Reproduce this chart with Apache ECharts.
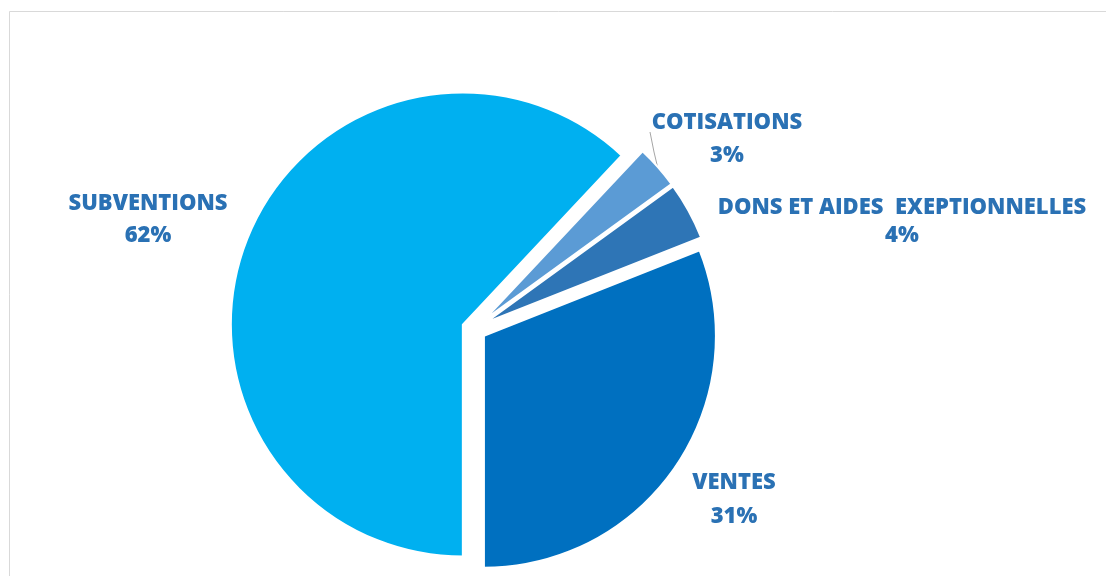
<!DOCTYPE html>
<html>
<head>
<meta charset="utf-8">
<script src="https://cdn.jsdelivr.net/npm/echarts@6/dist/echarts.min.js"></script>
<style>
html, body { margin: 0; background: #fff; }
#main { width: 1106px; height: 576px; }
</style>
</head>
<body>
<div id="main"></div>
<script>
// data, clockwise from the cut just right of 1 o'clock
var categories = ['COTISATIONS', 'DONS ET AIDES  EXEPTIONNELLES', 'VENTES', 'SUBVENTIONS'];
var values = [3, 4, 31, 62];

// looks
var colors = ['#5B9BD5', '#2E75B6', '#0070C0', '#00B0F0'];
var explode = [13, 13, 12, 12];              // px each slice is pulled out
var labelPos = [[727, 139], [902, 222], [734, 500], [148, 220]];
var lineHeights = [33, 28, 34, 32];
var leaderLine = [[659, 173], [654, 152], [650, 132]];

var pieX = 474, pieY = 329, radius = 232;
var firstAngle = 43.2; // degrees clockwise from 12 o'clock

var myChart = echarts.init(document.getElementById('main'));

var total = values.reduce(function (a, b) { return a + b; }, 0);
var series = [];
var acc = 0;
values.forEach(function (v, i) {
    var mid = (firstAngle + (acc + v / 2) / total * 360) * Math.PI / 180;
    acc += v;
    series.push({
        type: 'pie',
        silent: true,
        selectedMode: false,
        avoidLabelOverlap: false,
        center: [pieX + explode[i] * Math.sin(mid), pieY - explode[i] * Math.cos(mid)],
        radius: radius,
        startAngle: 90 - firstAngle,
        clockwise: true,
        animation: false,
        emphasis: { disabled: true },
        label: {
            position: 'outside',
            color: '#2A71B4',
            fontFamily: 'Open Sans',
            fontWeight: 800,
            fontSize: 22,
            lineHeight: lineHeights[i],
            align: 'center',
            formatter: function (p) {
                return p.name + '\n' + Math.round(p.percent) + '%';
            }
        },
        labelLine: {
            lineStyle: { color: '#a6a6a6', width: 1 }
        },
        labelLayout: function (p) {
            var pos = labelPos[p.dataIndex];
            var out = { x: pos[0], y: pos[1], align: 'center', verticalAlign: 'middle' };
            if (p.dataIndex === 0) out.labelLinePoints = leaderLine;
            return out;
        },
        data: categories.map(function (c, j) {
            return {
                name: c,
                value: values[j],
                itemStyle: j === i
                    ? { color: colors[j], borderColor: '#fff', borderWidth: 2 }
                    : { color: 'rgba(0,0,0,0)', borderWidth: 0 },
                label: { show: j === i },
                labelLine: { show: j === i && j === 0 }
            };
        })
    });
});

var option = {
    backgroundColor: '#fff',
    graphic: [{
        type: 'rect',
        silent: true,
        z: -10,
        shape: { x: 9.5, y: 11.5, width: 1200, height: 700 },
        style: { fill: 'none', stroke: '#d9d9d9', lineWidth: 1 }
    }],
    series: series
};

myChart.setOption(option);
</script>
</body>
</html>
